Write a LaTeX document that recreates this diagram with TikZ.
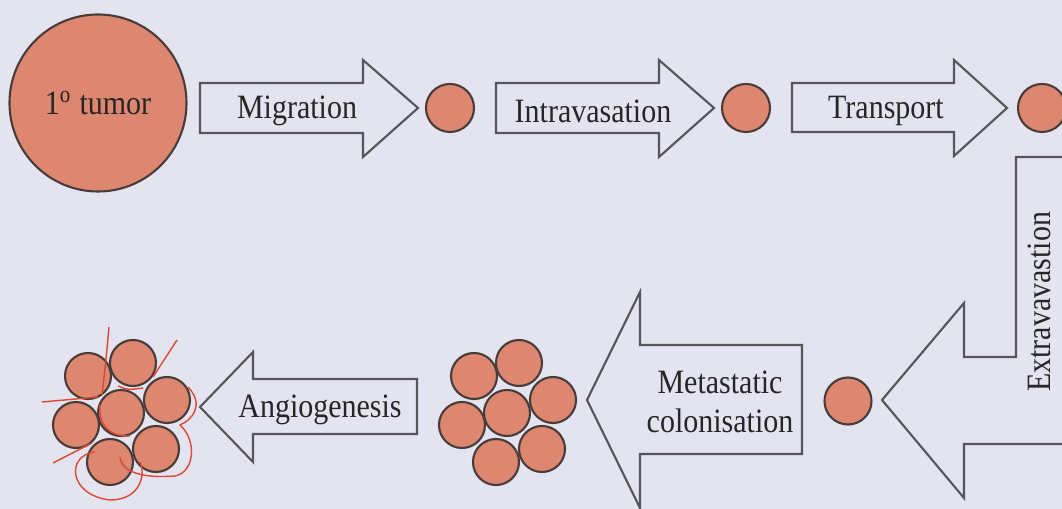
\documentclass[tikz,border=0pt]{standalone}
\usepackage{fontspec}
\setmainfont{Liberation Serif}[FakeStretch=0.88]

\definecolor{paper}{RGB}{227,228,240}
\definecolor{cellfill}{RGB}{221,134,112}
\definecolor{celledge}{RGB}{72,60,58}
\definecolor{vessel}{RGB}{220,72,50}
\definecolor{outline}{RGB}{85,85,90}

\tikzset{
  cell/.style={circle, draw=celledge, fill=cellfill, line width=0.6pt, inner sep=0pt, minimum size=0.46cm},
  blockarrow/.style={draw=outline, line width=0.6pt, line join=miter},
  steptext/.style={text=black!85, inner sep=0pt, font=\fontsize{9.7}{11.3}\selectfont},
  vein/.style={draw=vessel, line width=0.4pt},
}

\begin{document}
\begin{tikzpicture}[x=1cm, y=-1cm]
    \useasboundingbox (0,0) rectangle (10.62,5.09);
    \fill[paper] (0,0) rectangle (10.62,5.09);
    \clip (0,0) rectangle (10.62,5.09);

    % Primary tumour
    \node[cell, minimum size=1.77cm, steptext] (tumor) at (0.98,1.03) {1\textsuperscript{o} tumor};

    % Top row: block arrows and single cells
    \draw[blockarrow] (2.00,0.83) -- (3.63,0.83) -- (3.63,0.60) -- (4.18,1.08)
        -- (3.63,1.57) -- (3.63,1.33) -- (2.00,1.33) -- cycle;
    \node[steptext] (migr) at (2.97,1.11) {Migration};
    \node[cell, minimum size=0.48cm] (c1) at (4.50,1.08) {};

    \draw[blockarrow] (4.96,0.83) -- (6.59,0.83) -- (6.59,0.60) -- (7.14,1.08)
        -- (6.59,1.57) -- (6.59,1.33) -- (4.96,1.33) -- cycle;
    \node[steptext] (intra) at (5.93,1.11) {Intravasation};
    \node[cell, minimum size=0.48cm] (c2) at (7.46,1.08) {};

    \draw[blockarrow] (7.92,0.83) -- (9.54,0.83) -- (9.54,0.60) -- (10.07,1.08)
        -- (9.54,1.56) -- (9.54,1.32) -- (7.92,1.32) -- cycle;
    \node[steptext] (transp) at (8.86,1.11) {Transport};
    \node[cell, minimum size=0.48cm] (c3) at (10.42,1.08) {};

    % Bent arrow down the right side
    \draw[blockarrow] (11.00,1.57) -- (10.16,1.57) -- (10.16,3.57) -- (9.64,3.57)
        -- (9.64,3.03) -- (8.82,4.00) -- (9.64,4.98) -- (9.64,4.44) -- (11.00,4.44);
    \node[steptext, rotate=90] (extra) at (10.39,3.02) {Extravavastion};
    \node[cell, minimum size=0.47cm] (c4) at (8.48,4.01) {};

    % Colonisation
    \draw[blockarrow] (8.02,3.45) -- (8.02,4.54) -- (6.40,4.54) -- (6.40,5.08)
        -- (5.87,4.00) -- (6.40,2.92) -- (6.40,3.45) -- cycle;
    \node[steptext, align=center] (colon) at (7.20,4.02) {Metastatic\\colonisation};

    % Micrometastasis
    \node[cell] (m1) at (4.74,3.76) {};
    \node[cell] (m2) at (5.19,3.63) {};
    \node[cell] (m3) at (5.53,4.00) {};
    \node[cell] (m4) at (5.07,4.13) {};
    \node[cell] (m5) at (4.62,4.25) {};
    \node[cell] (m6) at (4.96,4.62) {};
    \node[cell] (m7) at (5.42,4.49) {};

    % Angiogenesis
    \draw[blockarrow] (4.17,3.79) -- (4.17,4.34) -- (2.53,4.34) -- (2.53,4.62)
        -- (2.00,4.07) -- (2.53,3.52) -- (2.53,3.79) -- cycle;
    \node[steptext] (angio) at (3.20,4.10) {Angiogenesis};

    % Vascularised metastasis
    \node[cell] (v1) at (0.88,3.76) {};
    \node[cell] (v2) at (1.33,3.63) {};
    \node[cell] (v3) at (1.67,4.00) {};
    \node[cell] (v4) at (1.21,4.13) {};
    \node[cell] (v5) at (0.76,4.25) {};
    \node[cell] (v6) at (1.10,4.62) {};
    \node[cell] (v7) at (1.56,4.49) {};

    % new vessels
    \draw[vein] (1.09,3.27) .. controls (1.06,3.60) .. (1.02,3.95);
    \draw[vein] (1.77,3.40) -- (1.53,3.77);
    \draw[vein] (0.42,4.02) -- (0.98,3.97);
    \draw[vein] (0.53,4.63) -- (0.92,4.43);
    \draw[vein] (1.18,3.86) .. controls (1.28,3.90) .. (1.43,3.88);
    \draw[vein] (1.00,4.05) .. controls (0.98,4.25) and (1.10,4.37) .. (1.30,4.36);
    \draw[vein] (0.95,4.52) .. controls (0.66,4.55) and (0.68,4.95) .. (1.10,5.00)
        .. controls (1.40,5.00) and (1.46,4.75) .. (1.40,4.62);
    \draw[vein] (1.20,4.57) .. controls (1.22,4.75) and (1.50,4.78) .. (1.75,4.76)
        .. controls (1.95,4.72) and (1.97,4.40) .. (1.80,4.25)
        .. controls (1.92,4.20) and (2.05,4.05) .. (1.88,3.87);
\end{tikzpicture}
\end{document}
